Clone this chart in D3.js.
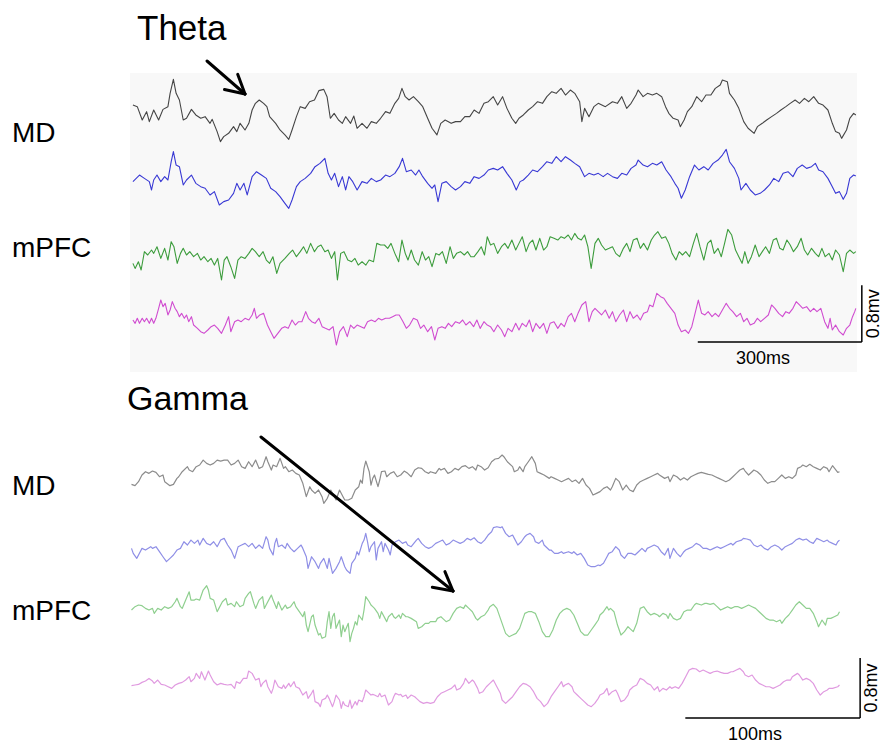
<!DOCTYPE html>
<html>
<head>
<meta charset="utf-8">
<script src="https://cdn.jsdelivr.net/npm/d3@7"></script>
<style>
  body{margin:0;background:#fff;}
  svg text{font-family:"Liberation Sans",Arial,sans-serif;fill:#000;}
</style>
</head>
<body>
<div id="chart"></div>
<script>

// datos: [tiempo ms, amplitud uV]
var mdThetaBlack = [[9,70],[17,47],[26,-141],[34,-23],[39,-164],[47,0],[56,-141],[64,9],[73,47],[77,235],[83,432],[88,235],[94,141],[101,-141],[107,-117],[116,9],[124,-70],[133,-117],[141,-94],[150,-188],[154,-132],[163,-305],[169,-446],[175,-376],[184,-329],[193,-235],[199,-305],[205,-188],[214,-282],[221,-188],[227,0],[233,94],[240,141],[248,94],[254,47],[259,-94],[270,-188],[278,-282],[287,-352],[294,-414],[300,-282],[308,-94],[315,47],[324,23],[332,117],[341,141],[349,273],[358,291],[364,188],[370,-117],[377,-47],[385,-141],[392,-188],[398,-94],[407,-188],[413,-85],[419,-258],[428,-188],[437,-258],[445,-164],[454,-188],[462,-117],[471,-23],[479,-47],[488,94],[495,164],[501,305],[507,188],[514,141],[522,188],[531,117],[539,47],[548,-117],[556,-258],[565,-352],[572,-188],[580,-141],[591,-188],[599,-164],[608,-164],[616,-94],[625,-94],[633,0],[642,-47],[651,94],[659,117],[668,188],[676,70],[685,188],[693,23],[702,-117],[709,-188],[715,-117],[723,-70],[732,0],[740,47],[749,117],[758,94],[766,188],[775,258],[783,235],[792,305],[800,211],[809,282],[817,235],[826,117],[830,-164],[835,23],[843,-94],[852,47],[860,94],[873,47],[886,117],[895,94],[903,188],[912,23],[920,94],[929,211],[933,282],[942,188],[950,235],[959,211],[967,235],[976,188],[983,47],[989,-47],[997,-117],[1006,-141],[1010,-235],[1017,-141],[1023,-23],[1031,47],[1040,188],[1049,117],[1057,211],[1066,211],[1074,305],[1083,352],[1087,423],[1096,400],[1100,235],[1109,141],[1117,23],[1126,-164],[1134,-258],[1145,-329],[1151,-235],[1160,-188],[1168,-141],[1177,-94],[1186,-47],[1194,0],[1203,47],[1211,94],[1220,141],[1228,94],[1237,164],[1245,117],[1254,188],[1263,94],[1271,70],[1280,0],[1288,-188],[1294,-305],[1301,-329],[1305,-400],[1314,-282],[1320,-117],[1327,-47],[1331,-70]];

var mdThetaBlue = [[9,-23],[15,23],[21,70],[30,23],[39,-23],[43,-141],[47,0],[53,70],[60,-23],[67,47],[73,0],[79,258],[83,400],[88,211],[94,188],[101,-70],[107,0],[116,70],[124,-47],[133,-94],[141,-117],[150,-211],[158,-164],[167,-352],[175,-305],[184,-282],[193,-188],[199,-47],[205,-141],[212,-47],[218,-211],[227,47],[235,117],[244,70],[253,23],[261,-117],[270,-164],[278,-235],[287,-329],[294,-400],[300,-282],[308,-94],[315,-23],[324,23],[334,94],[342,188],[351,235],[360,305],[366,94],[372,0],[378,94],[385,-94],[392,47],[398,-141],[404,47],[411,-23],[419,-141],[428,-23],[437,-47],[445,23],[454,-23],[462,0],[471,70],[479,47],[488,94],[496,188],[502,305],[509,117],[518,141],[526,70],[532,141],[539,47],[548,-47],[556,-117],[561,-70],[567,-305],[574,-47],[582,-23],[591,-94],[599,-141],[608,-94],[616,-23],[625,-47],[633,47],[642,23],[651,70],[659,141],[668,164],[676,141],[685,188],[693,94],[702,0],[710,-141],[717,-23],[723,0],[732,70],[740,141],[749,117],[758,188],[766,258],[775,235],[783,329],[792,258],[800,329],[809,282],[817,235],[826,188],[835,47],[843,94],[852,70],[860,94],[869,47],[877,94],[886,47],[895,23],[903,94],[912,70],[920,164],[929,211],[933,282],[942,211],[950,188],[959,235],[967,211],[976,258],[984,141],[993,47],[1000,-47],[1006,-117],[1012,-258],[1019,-141],[1027,47],[1036,211],[1044,141],[1053,188],[1061,141],[1070,235],[1079,282],[1087,352],[1094,432],[1100,258],[1109,164],[1117,23],[1121,-141],[1130,-47],[1138,-141],[1147,-211],[1156,-188],[1164,-141],[1173,-70],[1181,23],[1190,-23],[1198,94],[1207,117],[1216,47],[1224,164],[1233,211],[1241,164],[1250,188],[1257,235],[1263,141],[1271,117],[1280,23],[1288,-94],[1294,-188],[1301,-164],[1308,-273],[1314,-188],[1320,23],[1327,70],[1331,56]];

var pfcThetaGreen = [[9,-94],[13,-165],[19,-71],[24,-188],[30,71],[36,24],[43,94],[47,47],[53,141],[60,-24],[67,118],[73,-47],[79,212],[84,141],[90,-94],[96,47],[101,118],[107,24],[113,71],[120,0],[127,47],[133,-47],[139,0],[146,-71],[152,-24],[158,-118],[164,-24],[171,-329],[176,-47],[181,0],[188,-141],[195,-306],[201,-47],[207,0],[214,-24],[221,47],[227,118],[233,71],[240,0],[247,71],[253,-47],[259,-94],[265,0],[272,-235],[278,-94],[287,-24],[295,47],[301,94],[308,0],[315,71],[321,141],[327,47],[334,188],[341,71],[347,141],[353,165],[360,71],[366,94],[372,-24],[378,71],[383,-329],[389,47],[395,71],[402,-47],[409,-71],[415,-24],[421,-118],[428,-71],[435,-118],[441,-47],[449,-71],[455,188],[462,165],[469,165],[475,118],[481,188],[488,47],[495,-71],[501,235],[507,47],[512,-47],[518,94],[524,-47],[531,-118],[538,71],[544,-47],[550,0],[556,-141],[563,47],[569,24],[575,71],[582,-94],[589,141],[595,-24],[601,47],[608,71],[615,24],[621,71],[627,0],[633,0],[640,71],[646,141],[652,24],[657,282],[663,165],[669,188],[676,47],[683,141],[689,188],[695,118],[702,235],[709,94],[715,188],[721,282],[728,71],[734,188],[740,235],[746,94],[753,259],[760,94],[766,141],[772,282],[779,259],[786,235],[792,282],[798,259],[805,306],[811,235],[817,329],[823,259],[829,235],[835,306],[841,141],[847,-165],[854,188],[860,259],[866,165],[873,94],[880,118],[886,141],[892,47],[899,0],[906,118],[912,188],[918,71],[924,235],[931,259],[937,118],[943,188],[950,94],[957,235],[963,306],[969,353],[976,259],[983,282],[989,188],[995,47],[1002,-47],[1008,71],[1014,24],[1020,71],[1027,0],[1034,188],[1040,329],[1046,141],[1053,-47],[1060,188],[1066,235],[1072,47],[1079,118],[1085,0],[1091,188],[1097,385],[1104,306],[1111,94],[1117,0],[1123,-94],[1128,71],[1134,-94],[1140,0],[1147,165],[1154,0],[1160,71],[1166,141],[1173,47],[1180,235],[1186,259],[1192,118],[1198,94],[1205,235],[1211,165],[1217,71],[1224,141],[1231,259],[1237,94],[1243,24],[1250,118],[1257,47],[1263,0],[1269,118],[1275,0],[1282,47],[1288,-47],[1294,94],[1301,24],[1308,-212],[1314,47],[1320,94],[1327,47],[1331,71]];

var pfcThetaPink = [[9,0],[13,-47],[17,24],[21,-47],[26,24],[30,-24],[34,24],[39,-47],[43,24],[47,-47],[51,24],[56,165],[60,282],[64,188],[68,235],[73,71],[77,141],[81,259],[86,165],[90,118],[94,47],[98,94],[103,24],[107,71],[111,-24],[116,47],[120,-71],[127,-118],[133,-165],[139,-188],[146,-141],[152,-94],[158,-71],[164,-118],[171,-188],[178,-71],[184,47],[188,-165],[195,-24],[201,0],[207,-24],[214,24],[221,0],[227,71],[231,165],[235,24],[241,71],[248,94],[255,-71],[261,-165],[267,-259],[274,-188],[281,-118],[287,-94],[293,-118],[300,0],[306,-71],[312,-24],[318,-24],[325,118],[330,24],[336,-24],[342,-47],[349,24],[355,-94],[361,-118],[368,-141],[375,-94],[381,-353],[387,-165],[394,-94],[401,-235],[407,-71],[413,-118],[419,-71],[426,-94],[432,-118],[438,-24],[445,0],[452,-24],[458,24],[464,0],[471,24],[478,24],[484,47],[490,71],[496,71],[503,-24],[509,-118],[515,-71],[522,24],[529,0],[535,-118],[541,-71],[548,-165],[555,-94],[561,-282],[567,-118],[574,-94],[580,-118],[586,-47],[592,-94],[599,-24],[606,-47],[612,0],[618,-71],[625,-24],[632,-94],[638,0],[644,-118],[651,-24],[657,-71],[663,-94],[669,-165],[676,-71],[683,-141],[689,-235],[695,-118],[702,-165],[709,-47],[715,-141],[721,-47],[728,-94],[734,0],[740,-165],[746,-47],[753,-118],[760,-47],[766,-188],[772,-47],[779,-24],[786,-118],[792,-47],[798,-94],[805,47],[811,94],[817,-24],[823,94],[830,212],[837,259],[843,-24],[849,118],[854,165],[860,118],[866,71],[873,141],[880,24],[886,118],[892,-24],[899,71],[906,141],[912,-24],[918,118],[924,24],[931,71],[937,0],[943,94],[950,118],[954,212],[960,188],[967,376],[974,329],[980,306],[986,235],[993,165],[1000,94],[1006,-71],[1012,-165],[1019,-141],[1025,-188],[1031,-94],[1037,94],[1043,282],[1049,94],[1055,71],[1061,118],[1068,47],[1074,94],[1080,47],[1087,141],[1094,235],[1100,165],[1106,118],[1113,47],[1120,94],[1126,-24],[1132,24],[1138,-71],[1145,-47],[1151,24],[1157,-24],[1164,24],[1171,71],[1177,212],[1183,165],[1190,94],[1197,47],[1203,118],[1209,94],[1216,165],[1222,259],[1228,212],[1234,165],[1241,188],[1248,118],[1254,165],[1260,118],[1267,165],[1274,-24],[1280,-118],[1284,24],[1288,-141],[1294,-71],[1301,-165],[1308,-212],[1314,-118],[1320,-71],[1325,47],[1329,118],[1331,165]];

var mdGammaGray = [[2,-169],[4,-186],[6,-133],[8,-44],[10,0],[12,-22],[14,9],[16,-9],[18,-67],[20,-44],[21,-133],[24,-186],[26,-169],[28,-89],[29,-67],[31,0],[34,67],[35,22],[37,0],[39,67],[41,89],[43,155],[45,111],[47,89],[49,111],[51,155],[53,142],[55,155],[57,155],[59,89],[61,111],[63,155],[65,67],[67,44],[69,133],[71,67],[73,155],[75,44],[77,67],[79,200],[80,133],[82,22],[83,89],[85,67],[87,178],[89,44],[90,67],[92,0],[94,22],[96,-22],[98,-44],[100,-155],[102,-333],[104,-200],[105,-244],[107,-289],[109,-244],[111,-333],[112,-422],[114,-355],[116,-244],[117,-289],[119,-377],[121,-244],[123,-333],[124,-377],[126,-377],[128,-355],[130,-244],[132,-200],[133,-111],[134,-155],[135,44],[136,142],[138,0],[139,-178],[140,-89],[141,-44],[143,-200],[144,-111],[145,0],[147,9],[148,-67],[150,-22],[152,0],[154,-67],[156,-44],[158,9],[160,-22],[162,-67],[164,22],[166,53],[168,44],[170,0],[172,-22],[173,0],[176,-22],[178,44],[179,22],[181,44],[183,-22],[185,0],[187,44],[189,22],[191,67],[193,80],[195,44],[197,67],[199,22],[200,89],[202,67],[204,22],[206,53],[208,133],[210,169],[212,178],[214,222],[215,200],[217,133],[220,67],[221,0],[223,22],[224,67],[226,0],[227,67],[229,133],[231,200],[233,111],[234,0],[236,-22],[238,-44],[241,-89],[242,-67],[244,-89],[246,-111],[248,-133],[250,-111],[252,-89],[254,-133],[256,-111],[258,-155],[260,-89],[262,-178],[264,-222],[266,-311],[268,-289],[270,-266],[272,-222],[274,-200],[276,-244],[277,-200],[279,-89],[281,-133],[283,-244],[285,-178],[287,-244],[289,-266],[291,-178],[293,-133],[295,-111],[297,-89],[299,-67],[301,-44],[303,-22],[304,-44],[307,-89],[309,-67],[310,-133],[312,-44],[314,-67],[316,-111],[318,-80],[320,-111],[322,-67],[324,-44],[326,-22],[328,-9],[330,-22],[332,-36],[334,-44],[336,-67],[338,-89],[340,-111],[342,-133],[344,-111],[346,-67],[348,-22],[350,22],[352,44],[353,9],[355,-44],[357,0],[358,22],[360,0],[362,-44],[364,-111],[366,-155],[368,-133],[370,-133],[372,-89],[374,-44],[376,-89],[378,-67],[380,-89],[382,-44],[383,44],[385,67],[386,89],[388,67],[390,98],[392,67],[394,44],[396,22],[398,67],[400,44],[401,0],[403,80],[405,22],[406,-9],[407,0]];

var mdGammaBlue = [[2,44],[3,-22],[5,-89],[7,0],[8,44],[10,22],[13,67],[14,44],[16,67],[18,0],[20,-67],[22,-133],[24,-89],[26,-44],[28,22],[30,44],[32,133],[34,89],[36,155],[38,111],[40,155],[41,89],[43,178],[45,111],[47,89],[49,133],[51,67],[53,155],[55,178],[57,89],[59,22],[61,-89],[63,67],[65,89],[67,111],[69,67],[71,111],[73,44],[75,89],[77,44],[79,200],[80,155],[81,44],[83,-44],[84,111],[85,178],[86,67],[88,89],[90,44],[91,111],[93,44],[95,0],[97,44],[99,89],[100,44],[102,-67],[103,-222],[105,-67],[107,-133],[109,-222],[110,-155],[112,-89],[114,-222],[115,-89],[117,-289],[119,-222],[121,-133],[122,-67],[124,-200],[125,-244],[127,-289],[128,-155],[130,-89],[131,0],[132,-44],[134,111],[135,155],[136,244],[137,133],[138,0],[139,67],[141,133],[142,-111],[143,44],[145,133],[146,0],[147,111],[149,22],[150,-44],[151,89],[153,133],[155,155],[157,111],[159,133],[160,89],[162,67],[165,155],[166,178],[168,111],[170,67],[172,44],[174,67],[176,111],[178,133],[180,155],[182,89],[184,111],[186,155],[188,133],[190,111],[192,133],[194,178],[196,155],[198,186],[200,133],[202,111],[204,155],[206,222],[208,266],[209,320],[211,333],[213,320],[214,333],[216,244],[218,200],[220,222],[221,178],[223,89],[225,133],[227,200],[228,222],[230,244],[232,200],[233,133],[235,111],[237,155],[238,89],[241,22],[242,22],[244,-22],[246,-22],[248,0],[249,-22],[252,0],[254,-22],[255,0],[257,-44],[259,-22],[261,-89],[263,-178],[265,-200],[267,-200],[269,-178],[270,-186],[272,-155],[274,-67],[275,-22],[277,0],[279,67],[281,22],[282,-44],[284,-89],[286,-22],[288,-22],[290,-44],[292,0],[294,44],[296,0],[297,44],[299,67],[301,89],[303,67],[305,0],[307,-44],[309,44],[310,-89],[312,44],[314,-22],[316,-67],[318,0],[319,22],[321,44],[323,67],[325,111],[327,89],[329,44],[331,44],[333,22],[335,44],[337,67],[339,44],[341,67],[343,89],[345,111],[346,89],[348,133],[351,155],[352,178],[354,169],[356,155],[358,89],[360,67],[362,89],[364,44],[366,22],[368,67],[370,89],[372,67],[374,22],[376,67],[378,89],[380,111],[382,155],[384,178],[386,155],[388,169],[390,133],[392,111],[394,178],[396,155],[398,133],[400,155],[401,133],[403,111],[405,89],[406,133],[407,155]];

var pfcGammaGreen = [[2,22],[4,67],[6,89],[8,80],[10,44],[12,22],[14,44],[15,-22],[17,44],[19,22],[21,67],[23,44],[25,67],[27,133],[28,178],[30,67],[31,44],[33,155],[35,266],[36,155],[38,155],[39,169],[41,155],[43,289],[45,346],[46,289],[47,178],[49,155],[51,0],[52,44],[54,133],[56,178],[57,89],[59,111],[61,67],[62,133],[64,67],[66,89],[67,178],[69,244],[70,266],[72,111],[73,44],[75,155],[77,200],[78,44],[79,89],[81,178],[82,222],[83,155],[85,44],[86,133],[88,22],[90,89],[91,44],[93,67],[95,133],[96,67],[98,0],[100,-67],[101,0],[102,-178],[103,-266],[105,-67],[106,-44],[107,-178],[109,-311],[110,-289],[111,-355],[113,-333],[114,-133],[115,0],[116,-222],[117,-67],[118,-22],[119,-222],[121,-111],[122,-333],[123,-178],[124,-266],[126,-155],[127,-400],[128,-289],[129,-222],[130,-133],[131,-178],[132,-44],[134,-111],[135,22],[136,200],[138,133],[139,89],[140,67],[141,44],[143,-22],[144,-89],[145,0],[147,-89],[148,-133],[149,-67],[151,-22],[152,-67],[153,-89],[155,-44],[156,-89],[157,-22],[159,-67],[160,-67],[162,-89],[165,-133],[166,-222],[168,-200],[170,-155],[172,-155],[173,-133],[176,-133],[177,-89],[179,-67],[180,-89],[182,-133],[184,-111],[186,-22],[188,44],[190,67],[192,44],[193,89],[195,44],[197,0],[199,-89],[200,-111],[202,-67],[204,-44],[206,22],[207,67],[209,98],[211,44],[212,-22],[214,-155],[216,-289],[218,-333],[220,-311],[222,-289],[224,-222],[226,-89],[227,-22],[229,0],[231,0],[233,-22],[235,-133],[237,-266],[239,-333],[241,-333],[243,-244],[245,-111],[247,-22],[249,22],[251,44],[253,22],[255,-44],[257,-155],[259,-266],[261,-311],[263,-311],[265,-244],[267,-178],[269,-111],[270,-44],[272,0],[274,67],[275,22],[276,44],[278,0],[279,-89],[280,-178],[282,-311],[284,-266],[286,-200],[287,-222],[289,-266],[291,-155],[293,44],[295,67],[297,0],[299,-44],[301,-22],[303,-44],[304,-67],[306,-22],[308,-44],[309,-89],[310,-22],[312,-89],[314,-111],[316,-89],[318,0],[320,22],[322,22],[324,89],[325,111],[328,89],[330,111],[331,111],[333,98],[335,111],[337,67],[339,22],[341,44],[343,67],[345,44],[347,67],[349,67],[351,44],[353,67],[355,89],[357,67],[359,44],[361,0],[363,-44],[365,-89],[367,-111],[369,-111],[371,-133],[373,-111],[374,-155],[376,-89],[378,-44],[380,22],[382,89],[384,133],[386,89],[388,44],[390,44],[392,-22],[394,-133],[395,-200],[397,-111],[399,-178],[400,-89],[402,-89],[404,-67],[406,-44],[407,0]];

var pfcGammaPink = [[2,-53],[4,-44],[6,-36],[8,-9],[10,9],[12,44],[14,9],[15,-22],[17,22],[19,-36],[21,-44],[23,-67],[25,-89],[27,-44],[29,-22],[31,-9],[33,22],[35,67],[36,0],[38,44],[39,111],[41,44],[42,133],[44,22],[46,142],[47,89],[49,0],[51,-44],[53,-22],[55,-36],[57,-44],[59,-36],[61,-89],[62,0],[64,-22],[66,44],[68,44],[69,142],[71,111],[73,22],[75,44],[76,-67],[77,-22],[79,22],[80,-67],[82,-155],[83,-89],[84,22],[86,-67],[88,-89],[89,-44],[90,-89],[92,-22],[93,-67],[95,0],[96,-67],[98,-89],[100,-178],[102,-133],[103,-222],[105,-155],[106,-111],[107,-266],[109,-289],[110,-333],[111,-244],[113,-222],[114,-178],[115,-222],[117,-333],[118,-266],[119,-178],[121,-244],[122,-355],[123,-266],[124,-311],[126,-333],[127,-244],[128,-355],[130,-266],[131,-311],[132,-244],[134,-266],[135,-200],[136,-111],[138,-155],[139,-178],[140,-169],[141,-178],[143,-200],[144,-155],[145,-200],[147,-178],[148,-244],[149,-311],[151,-266],[152,-200],[153,-155],[155,-178],[156,-169],[157,-200],[159,-178],[160,-222],[162,-178],[164,-200],[165,-222],[167,-266],[169,-289],[171,-275],[173,-289],[175,-275],[177,-200],[179,-155],[181,-133],[183,-111],[185,-89],[187,-44],[188,-111],[190,-89],[192,-22],[193,44],[195,-22],[197,22],[198,0],[200,-89],[201,-155],[203,-133],[205,-67],[207,-22],[209,22],[211,-67],[213,-155],[214,-244],[216,-289],[218,-244],[220,-200],[222,-133],[224,-67],[226,-22],[228,-36],[230,-67],[232,-133],[234,-222],[236,-266],[238,-333],[240,-289],[242,-200],[244,-133],[246,-67],[248,0],[249,-67],[250,-44],[252,-22],[254,-67],[255,-133],[257,-178],[259,-222],[261,-266],[263,-311],[265,-333],[267,-289],[269,-222],[270,-178],[272,-155],[274,-89],[275,-178],[277,-133],[279,-111],[280,-155],[282,-266],[284,-244],[286,-178],[287,-111],[289,-67],[291,-44],[293,44],[295,22],[297,-22],[299,-44],[301,-111],[303,-67],[304,-133],[306,-89],[308,-111],[310,-67],[311,-89],[313,-67],[315,-89],[317,-22],[319,67],[321,155],[323,178],[325,169],[327,133],[329,155],[331,133],[333,111],[335,133],[337,142],[339,124],[341,111],[343,111],[345,133],[346,133],[348,155],[350,178],[352,133],[353,89],[355,67],[357,89],[359,22],[361,-22],[363,-44],[365,-67],[367,-67],[369,-89],[371,-67],[373,-44],[375,0],[377,22],[379,22],[380,67],[383,111],[384,89],[386,22],[388,44],[390,22],[392,-22],[394,-111],[396,-178],[398,-133],[400,-111],[401,-89],[403,-89],[406,-67],[407,-44]];

var panelTitles = ["Theta", "Gamma"];
var regionLabels = ["MD", "mPFC"];
var scaleBarTime = [300, 100];   // ms
var scaleBarVolt = 800;          // uV (0.8mv)
var scaleBarText = ["300ms", "100ms", "0.8mv"];

var W = 883, H = 743;
var svg = d3.select("#chart").append("svg")
  .attr("width", W).attr("height", H);

// panel superior (theta) y panel inferior (gamma)
var thetaPanel = {
  x: d3.scaleLinear().domain([0, 1335]).range([128, 858]),
  y: d3.scaleLinear().domain([-400, 400]).range([28.35, -28.35]),
  traces: [
    {data: mdThetaBlack, base: 110, color: "#454545", w: 1.1},
    {data: mdThetaBlue, base: 180, color: "#3838d4", w: 1.1},
    {data: pfcThetaGreen, base: 256.7, color: "#3c9c3c", w: 1.1},
    {data: pfcThetaPink, base: 320, color: "#d04cd0", w: 1.1}
  ]
};
var gammaPanel = {
  x: d3.scaleLinear().domain([0, 407]).range([128, 839.5]),
  y: d3.scaleLinear().domain([-400, 400]).range([30, -30]),
  traces: [
    {data: mdGammaGray, base: 471.7, color: "#8c8c8c", w: 1.2},
    {data: mdGammaBlue, base: 551.7, color: "#8f8fe6", w: 1.2},
    {data: pfcGammaGreen, base: 611.7, color: "#8fcf8f", w: 1.2},
    {data: pfcGammaPink, base: 681.7, color: "#e09ae0", w: 1.2}
  ]
};

svg.append("rect")
  .attr("x", 130).attr("y", 73)
  .attr("width", 727).attr("height", 299)
  .attr("fill", "#f8f8f8");

function drawTraces(panel){
  panel.traces.forEach(function(tr){
    var line = d3.line()
      .x(function(d){ return panel.x(d[0]); })
      .y(function(d){ return tr.base + panel.y(d[1]); });
    svg.append("path")
      .datum(tr.data)
      .attr("d", line)
      .attr("fill", "none")
      .attr("stroke", tr.color)
      .attr("stroke-width", tr.w)
      .attr("stroke-linejoin", "round");
  });
}
drawTraces(thetaPanel);
drawTraces(gammaPanel);

// titulos y etiquetas
svg.append("text").attr("x", 137).attr("y", 40)
  .attr("font-size", 35).text(panelTitles[0]);
svg.append("text").attr("x", 127).attr("y", 410)
  .attr("font-size", 34).text(panelTitles[1]);

var labelPos = [[12, 142, 0], [12, 257, 1], [12, 495, 0], [12, 620, 1]];
labelPos.forEach(function(p){
  svg.append("text").attr("x", p[0]).attr("y", p[1])
    .attr("font-size", 28).text(regionLabels[p[2]]);
});

// flechas
function arrow(x1, y1, x2, y2){
  var g = svg.append("g").attr("stroke", "#000").attr("stroke-width", 3)
    .attr("stroke-linecap", "round").attr("fill", "none");
  g.append("line").attr("x1", x1).attr("y1", y1).attr("x2", x2).attr("y2", y2);
  var ang = Math.atan2(y2 - y1, x2 - x1), len = 21, spread = 0.5;
  [ang + Math.PI - spread, ang + Math.PI + spread].forEach(function(a){
    g.append("line").attr("x1", x2).attr("y1", y2)
      .attr("x2", x2 + len*Math.cos(a)).attr("y2", y2 + len*Math.sin(a));
  });
}
arrow(207, 61, 245, 94);
arrow(261, 437, 453, 591);

// barras de escala
function scaleBar(panel, tEnd, tLen, yBar, txt, txtX, txtY){
  var x0 = panel.x(tEnd - tLen), x1 = panel.x(tEnd);
  var h = panel.y(0) - panel.y(scaleBarVolt);
  var g = svg.append("g").attr("stroke", "#000").attr("stroke-width", 1.5);
  g.append("line").attr("x1", x0).attr("y1", yBar).attr("x2", x1).attr("y2", yBar);
  g.append("line").attr("x1", x1).attr("y1", yBar).attr("x2", x1).attr("y2", yBar - h);
  svg.append("text").attr("x", txtX).attr("y", txtY)
    .attr("text-anchor", "middle").attr("font-size", 18).text(txt);
  svg.append("text")
    .attr("transform", "translate(" + (x1 + 17) + "," + (yBar - h/2) + ") rotate(-90)")
    .attr("text-anchor", "middle").attr("font-size", 18).text(scaleBarText[2]);
}
scaleBar(thetaPanel, 1342, scaleBarTime[0], 342, scaleBarText[0], 763, 364);
scaleBar(gammaPanel, 418.8, scaleBarTime[1], 718, scaleBarText[1], 755, 740);

</script>
</body>
</html>
